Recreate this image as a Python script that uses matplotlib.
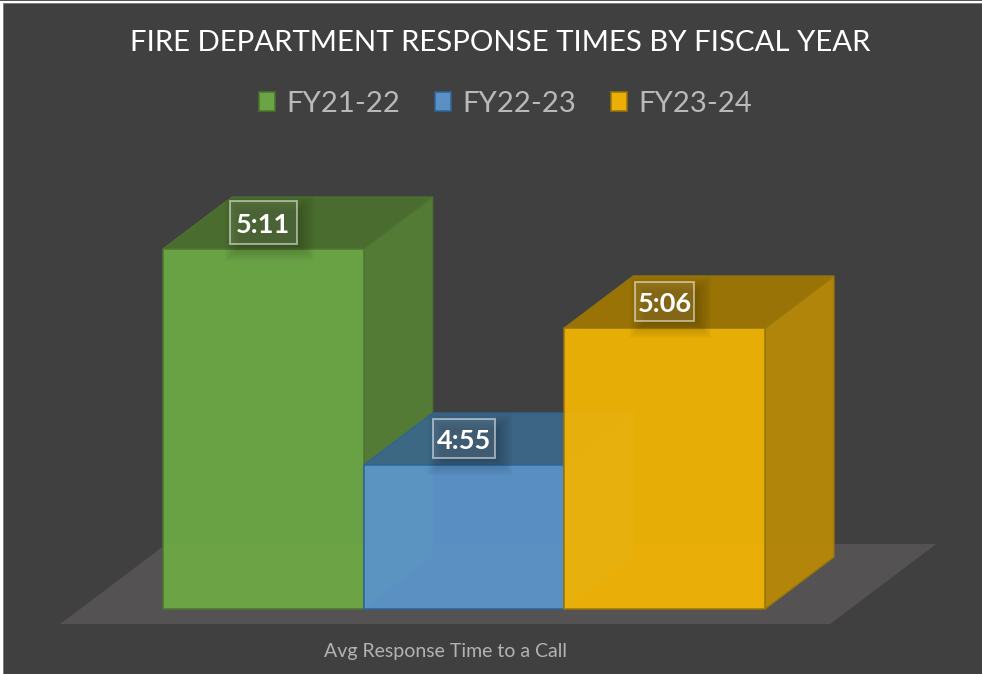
import matplotlib
matplotlib.use("Agg")
import matplotlib.pyplot as plt
from matplotlib.patches import Polygon, Rectangle
from matplotlib.transforms import IdentityTransform

# ---- data ----
fiscal_years = ["FY21-22", "FY22-23", "FY23-24"]
response_seconds = [311.49, 295.11, 305.5]
value_labels = ["5:11", "4:55", "5:06"]
title_text = "FIRE DEPARTMENT RESPONSE TIMES BY FISCAL YEAR"
category_text = "Avg Response Time to a Call"

# ---- style ----
W, H = 982, 674
BG = "#404040"
FLOOR = "#545252"
FRONT = ["#6daa45", "#5c95cd", "#f5b603"]
SIDE = ["#558035", "#48729c", "#bb8b06"]
TOP = ["#4b702e", "#3c678a", "#a17802"]
EDGE = ["#4c7530", "#2f6496", "#97750c"]
BOX_W = [67, 62, 59]
BOX_H = [43, 39, 39]
DX, DY = 69, 52
FONT = "Lato"
Y_BASE = 284.19

plt.rcParams["font.family"] = [FONT, "DejaVu Sans"]
fig = plt.figure(figsize=(W / 100, H / 100), dpi=100, facecolor="white")
tid = IdentityTransform()


def rect(x0, ytop, x1, ybot, **kw):
    fig.add_artist(Rectangle((x0, H - ybot), x1 - x0, ybot - ytop, transform=tid, lw=0, **kw))


rect(3, 4, W, H, color=BG, zorder=-5)
rect(3, 3, W, 4, color="#7d7d7d", zorder=-4)
rect(3, 3, 4, H, color="#7d7d7d", zorder=-4)
rect(0, 0, W, 1, color="#555555", zorder=-4)

ax = fig.add_axes([163 / W, 1 - 609 / H, (765 - 163) / W, (609 - 249) / H])
ax.set_xlim(-0.5, 2.5)
ax.set_ylim(Y_BASE, response_seconds[0])
ax.axis("off")
ax.patch.set_visible(False)


def px(x, y, depth=0.0):
    p = ax.transData.transform((x, y))
    return (p[0] + DX * depth, p[1] + DY * depth)


# floor
fl, fr = -1.012, 2.825
fb = ax.transData.transform((0, Y_BASE))[1]
floor_pts = [(px(fl, Y_BASE)[0], fb - 15), (px(fr, Y_BASE)[0], fb - 15),
             (px(fr, Y_BASE)[0] + 106, fb + 65), (px(fl, Y_BASE)[0] + 106, fb + 65)]
ax.add_patch(Polygon(floor_pts, closed=True, transform=tid, fc=FLOOR, ec="none", zorder=1, clip_on=False))

# bars (faux 3D)
for i, v in enumerate(response_seconds):
    z = 2 + i * 3
    l, r = i - 0.5, i + 0.5
    side = [px(r, Y_BASE), px(r, v), px(r, v, 1), px(r, Y_BASE, 1)]
    top = [px(l, v), px(r, v), px(r, v, 1), px(l, v, 1)]
    for pts, col in ((side, SIDE[i]), (top, TOP[i])):
        ax.add_patch(Polygon(pts, closed=True, transform=tid, fc=col, ec=EDGE[i], lw=1.0,
                             alpha=0.93, zorder=z, clip_on=False))
    ax.bar(i, v - Y_BASE, bottom=Y_BASE, width=1.0, color=FRONT[i], edgecolor=EDGE[i], lw=1.2,
           alpha=0.93, zorder=z + 1, clip_on=False)

# value labels
for i, (v, s) in enumerate(zip(response_seconds, value_labels)):
    cx, cy = px(i, v)
    cy += DY / 2
    LW, LH = BOX_W[i], BOX_H[i]
    for grow in (11, 9, 7, 5, 3, 1, -1, -3):
        ax.add_patch(Rectangle((cx - LW / 2 + 6 - grow, cy - LH / 2 - 6 - grow), LW + 2 * grow, LH + 2 * grow,
                               transform=tid, fc="black", alpha=0.028, lw=0, zorder=20, clip_on=False))
    ax.add_patch(Rectangle((cx - LW / 2, cy - LH / 2), LW, LH, transform=tid, fc=(1, 1, 1, 0.09),
                           ec=(1, 1, 1, 0.5), lw=1.4, zorder=21, clip_on=False))
    ax.text(cx, cy, s, transform=tid, ha="center", va="center_baseline", color="white", fontsize=19.5,
            fontweight="bold", zorder=22, clip_on=False)

# title, legend, category label
fig.text(500 / W, 1 - 43 / H, title_text, ha="center", va="center", color="white", fontsize=21.2)
handles = [Rectangle((0, 0), 1, 1, fc=FRONT[i], ec=EDGE[i], lw=1.2, alpha=0.95) for i in range(3)]
fig.legend(handles, fiscal_years, loc="center", bbox_to_anchor=(505.5 / W, 1 - 104 / H), ncol=3, frameon=False,
           fontsize=21.1, labelcolor="#b9b9b9", handlelength=0.55, handleheight=0.65,
           handletextpad=0.37, columnspacing=1.2)
fig.text(446 / W, 1 - 651 / H, category_text, ha="center", va="center", color="#b3b3b3", fontsize=14)

fig.savefig("out.png", dpi=100, facecolor=fig.get_facecolor())
